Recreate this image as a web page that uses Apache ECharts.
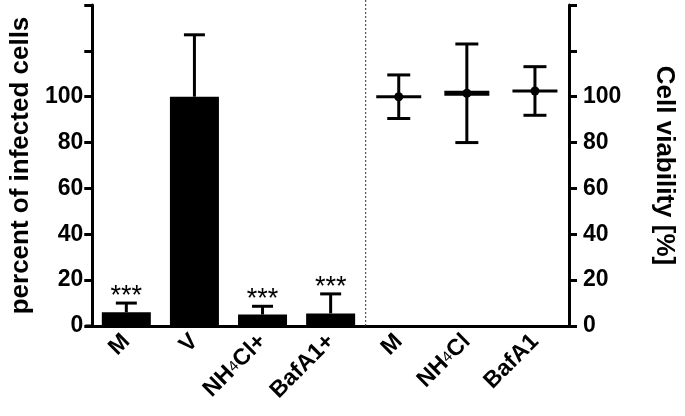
<!DOCTYPE html>
<html><head><meta charset="utf-8">
<script src="https://cdn.jsdelivr.net/npm/echarts@6/dist/echarts.min.js"></script>
<style>html,body{margin:0;padding:0;background:#fff}#c{width:685px;height:416px}</style>
</head><body><div id="c"></div>
<script>
// ---- data ----
const categories = ['M', 'V', 'NH4Cl+', 'BafA1+', 'M', 'NH4Cl', 'BafA1'];
const infectedMean = [6, 100, 5, 5.5];
const infectedSD = [4, 27, 3.6, 8.5];
const significance = ['***', '', '***', '***'];
const viabilityMean = [100, 101.5, 102.5];
const viabilitySD = [9.5, 21.5, 10.6];
const yTickLabels = [0, 20, 40, 60, 80, 100];
const yMax = 140;
const yInterval = 20;

// ---- build ----
const FONT = "'Liberation Sans', Arial, Helvetica, sans-serif";
const nLeft = infectedMean.length;
const barData = categories.map((c, i) => i < nLeft ? infectedMean[i] : '-');
const errData = infectedMean.map((m, i) => [i, m, m + infectedSD[i]]);
const viaData = viabilityMean.map((m, i) => [nLeft + i, m, m - viabilitySD[i], m + viabilitySD[i]]);

const chart = echarts.init(document.getElementById('c'), null, {renderer: 'canvas'});

function catLabel(v) {
  const m = v.match(/^NH4(.*)$/);
  if (m) return '{a|NH}{s|4}{a|' + m[1] + '}';
  return '{a|' + v + '}';
}
function yLabel(v) { return yTickLabels.indexOf(v) >= 0 ? String(v) : ''; }

function yAxisDef(pos, name, rot, gap, margin) {
  return {
    type: 'value', min: 0, max: yMax, interval: yInterval, position: pos,
    splitLine: {show: false},
    axisLine: {show: true, lineStyle: {color: '#000', width: 3}},
    axisTick: {show: true, length: 8, lineStyle: {color: '#000', width: 3}},
    axisLabel: {formatter: yLabel, color: '#000', fontFamily: FONT, fontWeight: 'bold', fontSize: 23, margin: margin},
    name: name, nameLocation: 'middle', nameRotate: rot, nameGap: gap,
    nameTextStyle: {color: '#000', fontFamily: FONT, fontWeight: 'bold', fontSize: 26}
  };
}

const option = {
  animation: false,
  backgroundColor: '#fff',
  grid: {left: 92, right: 107, top: 5, bottom: 90},
  xAxis: {
    type: 'category', data: categories, boundaryGap: true,
    axisLine: {lineStyle: {color: '#000', width: 3}},
    axisTick: {alignWithLabel: true, length: 8, lineStyle: {color: '#000', width: 3}},
    axisLabel: {
      rotate: 45, margin: 12, interval: 0, formatter: catLabel,
      rich: {
        a: {fontFamily: FONT, fontWeight: 'bold', fontSize: 23, color: '#000'},
        s: {fontFamily: FONT, fontWeight: 'normal', fontSize: 15, color: '#000'}
      }
    }
  },
  yAxis: [
    yAxisDef('left', 'percent of infected cells', 90, 56, 9),
    yAxisDef('right', 'Cell viability [%]', -90, 82, 14)
  ],
  series: [
    {
      type: 'bar', data: barData, barWidth: 49, yAxisIndex: 0,
      itemStyle: {color: '#000'}, z: 2
    },
    {
      type: 'custom', yAxisIndex: 0, data: errData, z: 3,
      renderItem: function (params, api) {
        const x = api.value(0), m = api.value(1), hi = api.value(2);
        const p0 = api.coord([x, m]);
        const p1 = api.coord([x, hi]);
        const hw = 10.5;
        const st = {stroke: '#000', lineWidth: 3};
        const children = [
          {type: 'line', shape: {x1: p0[0], y1: p0[1], x2: p1[0], y2: p1[1]}, style: st},
          {type: 'line', shape: {x1: p1[0] - hw, y1: p1[1], x2: p1[0] + hw, y2: p1[1]}, style: st}
        ];
        const s = significance[params.dataIndex];
        if (s) children.push({type: 'text', style: {text: s, x: p1[0], y: p1[1] + 7, align: 'center', verticalAlign: 'bottom', font: '27px ' + FONT, fill: '#000'}});
        return {type: 'group', children: children};
      }
    },
    {
      type: 'custom', yAxisIndex: 1, data: viaData, z: 3,
      renderItem: function (params, api) {
        const x = api.value(0), m = api.value(1), lo = api.value(2), hi = api.value(3);
        const pm = api.coord([x, m]), pl = api.coord([x, lo]), ph = api.coord([x, hi]);
        const cw = 11.5, mw = 22.5;
        const st = {stroke: '#000', lineWidth: 3};
        return {type: 'group', children: [
          {type: 'line', shape: {x1: pl[0], y1: pl[1], x2: ph[0], y2: ph[1]}, style: st},
          {type: 'line', shape: {x1: pl[0] - cw, y1: pl[1], x2: pl[0] + cw, y2: pl[1]}, style: st},
          {type: 'line', shape: {x1: ph[0] - cw, y1: ph[1], x2: ph[0] + cw, y2: ph[1]}, style: st},
          {type: 'line', shape: {x1: pm[0] - mw, y1: pm[1], x2: pm[0] + mw, y2: pm[1]}, style: {stroke: '#000', lineWidth: params.dataIndex === 1 ? 5 : 3}},
          {type: 'circle', shape: {cx: pm[0], cy: pm[1], r: 4.5}, style: {fill: '#000'}}
        ]};
      }
    },
    {
      type: 'custom', yAxisIndex: 0, data: [[nLeft - 1, nLeft]], z: 1,
      renderItem: function (params, api) {
        const a = api.coord([api.value(0), 0]);
        const b = api.coord([api.value(1), 0]);
        const x = (a[0] + b[0]) / 2 + 1;
        return {type: 'line', shape: {x1: x, y1: 0, x2: x, y2: a[1]},
          style: {stroke: '#333', lineWidth: 1, lineDash: [2, 2]}};
      }
    }
  ]
};
chart.setOption(option);
const y0 = chart.convertToPixel({yAxisIndex: 0}, 0);
const xL = chart.getModel().getComponent('grid').coordinateSystem.getRect().x;
chart.setOption({graphic: [{type: 'line', shape: {x1: xL - 7, y1: y0, x2: xL, y2: y0}, style: {stroke: '#000', lineWidth: 3}}]});
</script>
</body></html>
